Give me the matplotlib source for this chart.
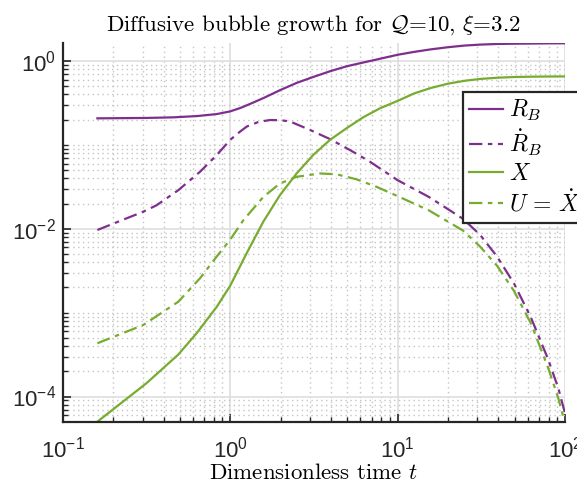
import numpy as np
import matplotlib
matplotlib.use('Agg')
import matplotlib.pyplot as plt
from matplotlib.ticker import LogLocator, NullFormatter, FixedLocator

plt.rcParams['font.family'] = ['Liberation Sans', 'DejaVu Sans']
plt.rcParams['mathtext.fontset'] = 'cm'

# log10(t) and log10(value), one pair of lists per curve
lt_RB = [-0.793, -0.5, -0.34, -0.2, -0.08, 0.0, 0.06, 0.12, 0.2, 0.3, 0.4, 0.5, 0.6,
         0.7, 0.8, 0.9, 1.0, 1.1, 1.2, 1.3, 1.4, 1.5, 1.6, 1.7, 1.8, 1.9, 2.0]
ly_RB = [-0.683, -0.678, -0.671, -0.656, -0.632, -0.60, -0.56, -0.51, -0.44, -0.345,
         -0.258, -0.187, -0.119, -0.06, -0.015, 0.03, 0.075, 0.11, 0.14, 0.165, 0.185,
         0.197, 0.204, 0.207, 0.209, 0.211, 0.212]

lt_RBdot = [-0.793, -0.519, -0.44, -0.31, -0.18, -0.08, 0.0, 0.06, 0.1, 0.17, 0.238,
            0.3, 0.357, 0.476, 0.596, 0.715, 0.835, 1.0, 1.187, 1.39, 1.492, 1.594,
            1.695, 1.797, 1.898, 1.96, 2.0]
ly_RBdot = [-2.014, -1.796, -1.72, -1.54, -1.32, -1.12, -0.94, -0.84, -0.78, -0.725,
            -0.703, -0.705, -0.72, -0.82, -0.93, -1.06, -1.2, -1.42, -1.62, -1.88,
            -2.07, -2.33, -2.65, -3.06, -3.55, -3.90, -4.2]

lt_X = [-0.793, -0.499, -0.31, -0.2, -0.08, 0.0, 0.099, 0.198, 0.297, 0.397, 0.496,
        0.596, 0.696, 0.795, 0.894, 1.0, 1.1, 1.2, 1.3, 1.4, 1.5, 1.6, 1.7, 1.8, 1.9, 2.0]
ly_X = [-4.3, -3.84, -3.50, -3.245, -2.93, -2.68, -2.29, -1.915, -1.60, -1.34, -1.12,
        -0.94, -0.80, -0.67, -0.564, -0.475, -0.385, -0.32, -0.27, -0.235, -0.212,
        -0.198, -0.19, -0.186, -0.184, -0.183]

lt_U = [-0.793, -0.519, -0.31, -0.18, -0.08, 0.0, 0.078, 0.198, 0.297, 0.397, 0.536,
        0.636, 0.755, 0.875, 1.0, 1.187, 1.39, 1.492, 1.594, 1.695, 1.797, 1.898, 1.96, 2.0]
ly_U = [-3.365, -3.147, -2.87, -2.59, -2.33, -2.13, -1.90, -1.62, -1.46, -1.38, -1.34,
        -1.35, -1.41, -1.50, -1.61, -1.78, -2.02, -2.21, -2.44, -2.74, -3.13, -3.65,
        -4.02, -4.32]

purple = '#7E2F8E'
green = '#77AC30'


def p10(a):
    return 10 ** np.array(a)


fig = plt.figure(figsize=(5.77, 4.87), dpi=100)
ax = fig.add_axes([0.1087, 0.1341, 0.9792 - 0.1087, 0.9111 - 0.1341])

dd = (6, 2.5, 2, 2.5)
ax.plot(p10(lt_RB), p10(ly_RB), color=purple, lw=1.6, label=r'$R_B$')
ax.plot(p10(lt_RBdot), p10(ly_RBdot), color=purple, lw=1.6, dashes=dd, label=r'$\dot{R}_B$')
ax.plot(p10(lt_X), p10(ly_X), color=green, lw=1.6, label=r'$X$')
ax.plot(p10(lt_U), p10(ly_U), color=green, lw=1.6, dashes=dd, label=r'$U\,=\,\dot{X}$')

ax.set_xscale('log')
ax.set_yscale('log')
ax.set_xlim(0.1, 100)
ax.set_ylim(10 ** -4.3, 10 ** 0.212)

ax.xaxis.set_major_locator(FixedLocator([0.1, 1, 10, 100]))
ax.xaxis.set_minor_locator(LogLocator(base=10, subs=np.arange(2, 10)))
ax.xaxis.set_minor_formatter(NullFormatter())
ax.yaxis.set_major_locator(FixedLocator([1e-4, 1e-2, 1]))
yminor = [k * 10.0 ** n for n in range(-5, 1) for k in range(1, 10)
          if not (k == 1 and n in (-4, -2, 0))]
ax.yaxis.set_minor_locator(FixedLocator(yminor))
ax.yaxis.set_minor_formatter(NullFormatter())

ax.grid(True, which='major', color='#dedede', lw=1.2, ls='-')
ax.grid(True, which='minor', color='#c4c4c4', lw=1.0, ls=(0, (1, 2.5)))
ax.set_axisbelow(True)

for s in ['top', 'right']:
    ax.spines[s].set_visible(False)
for s in ['left', 'bottom']:
    ax.spines[s].set_linewidth(1.6)
    ax.spines[s].set_color('#262626')

ax.tick_params(which='both', direction='in', colors='#262626', labelcolor='#262626')
ax.tick_params(which='major', length=6, width=1.2, labelsize=16)
ax.tick_params(which='minor', length=3.5, width=1.0)
ax.tick_params(axis='x', pad=11)
ax.tick_params(axis='y', pad=5)

ax.set_title(r'Diffusive bubble growth for $\mathcal{Q}$=10, $\xi$=3.2',
             fontsize=16.5, family='cmr10', pad=9)
ax.set_xlabel(r'Dimensionless time $t$', fontsize=16.5, family='cmr10', labelpad=0)

leg = ax.legend(loc='upper left', bbox_to_anchor=(463 / 577, 1 - 92 / 487),
                bbox_transform=fig.transFigure, fontsize=17, frameon=True,
                fancybox=False, framealpha=1, edgecolor='#262626',
                handlelength=1.45, handletextpad=0.25, labelspacing=0.2,
                borderpad=0.25, borderaxespad=0)
leg.get_frame().set_linewidth(1.6)

fig.savefig('out.png', dpi=100)
